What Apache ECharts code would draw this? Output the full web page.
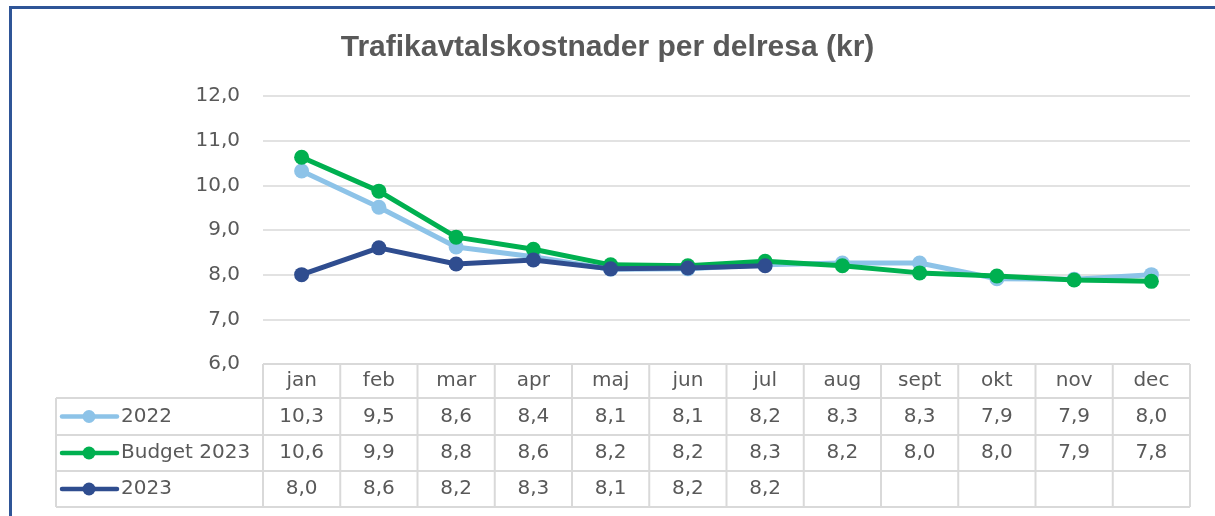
<!DOCTYPE html>
<html lang="sv">
<head>
    <meta charset="UTF-8">
    <title>Trafikavtalskostnader per delresa</title>
    <style>
        html, body { margin: 0; padding: 0; background: #fff; }
    </style>
</head>
<body>
    <div id="main" style="width: 1215px; height: 516px;"></div>

    <script src="https://cdn.jsdelivr.net/npm/echarts@6/dist/echarts.min.js"></script>
    <script>
        // data
        var months = ['jan', 'feb', 'mar', 'apr', 'maj', 'jun', 'jul', 'aug', 'sept', 'okt', 'nov', 'dec'];
        var seriesNames = ['2022', 'Budget 2023', '2023'];
        var values2022 = [10.32, 9.51, 8.62, 8.40, 8.12, 8.13, 8.22, 8.26, 8.26, 7.91, 7.90, 8.00];
        var valuesBudget = [10.63, 9.87, 8.84, 8.57, 8.22, 8.20, 8.30, 8.20, 8.04, 7.97, 7.88, 7.85];
        var values2023 = [8.00, 8.60, 8.24, 8.33, 8.13, 8.15, 8.20, null, null, null, null, null];
        var yTicks = [6, 7, 8, 9, 10, 11, 12];

        var colors = ['#8dc3e8', '#00b050', '#2f4d8f'];
        var allValues = [values2022, valuesBudget, values2023];

        function fmt(v) {
            return v == null ? '' : v.toFixed(1).replace('.', ',');
        }

        var chartDom = document.getElementById('main');
        var myChart = echarts.init(chartDom);

        var gridLeft = 263, gridRight = 25, gridTop = 96, gridBottom = 152;
        var bodyFont = 'DejaVu Sans, sans-serif';

        var option = {
            animation: false,
            backgroundColor: '#fff',
            title: {
                text: 'Trafikavtalskostnader per delresa (kr)',
                left: 'center',
                top: 28,
                textStyle: {
                    fontFamily: 'Liberation Sans Narrow, Arial Narrow, sans-serif',
                    fontSize: 30,
                    fontWeight: 'bold',
                    color: '#595959'
                }
            },
            grid: { left: gridLeft, right: gridRight, top: gridTop, bottom: gridBottom },
            xAxis: {
                type: 'category',
                data: months,
                boundaryGap: true,
                axisLine: { show: false },
                axisTick: { show: false },
                axisLabel: { show: false }
            },
            yAxis: {
                type: 'value',
                min: yTicks[0],
                max: yTicks[yTicks.length - 1],
                interval: 1,
                axisLine: { show: false },
                axisTick: { show: false },
                axisLabel: {
                    formatter: fmt,
                    color: '#595959',
                    fontFamily: bodyFont,
                    fontSize: 20,
                    margin: 23
                },
                splitLine: { lineStyle: { color: '#d9d9d9', width: 1.5 } }
            },
            series: allValues.map(function (vals, i) {
                return {
                    name: seriesNames[i],
                    type: 'line',
                    data: vals,
                    symbol: 'circle',
                    symbolSize: 15,
                    connectNulls: false,
                    lineStyle: { color: colors[i], width: 5 },
                    itemStyle: { color: colors[i] },
                    z: 2 + i
                };
            })
        };
        myChart.setOption(option);

        // data table under the plot
        var textStyleBase = {
            fill: '#595959',
            fontFamily: bodyFont,
            fontSize: 20
        };
        var lineColor = '#d9d9d9';
        var tableLeft = 56;
        var plotRight = 1215 - gridRight;
        var rowsY = [364, 398, 435, 471, 507];
        var colW = (plotRight - gridLeft) / months.length;
        var g = [];

        function hLine(x1, x2, y) {
            g.push({ type: 'line', shape: { x1: x1, y1: y, x2: x2, y2: y }, style: { stroke: lineColor, lineWidth: 2 } });
        }
        function vLine(x, y1, y2) {
            g.push({ type: 'line', shape: { x1: x, y1: y1, x2: x, y2: y2 }, style: { stroke: lineColor, lineWidth: 2 } });
        }

        // horizontal lines
        hLine(gridLeft, plotRight, rowsY[0]);
        for (var r = 1; r < rowsY.length; r++) hLine(tableLeft, plotRight, rowsY[r]);
        // vertical lines
        vLine(tableLeft, rowsY[1], rowsY[4]);
        for (var c = 0; c <= months.length; c++) vLine(gridLeft + c * colW, rowsY[0], rowsY[4]);

        // header (months)
        months.forEach(function (m, i) {
            var cx = myChart.convertToPixel({ xAxisIndex: 0 }, m);
            g.push({
                type: 'text', x: cx, y: (rowsY[0] + rowsY[1]) / 2,
                style: Object.assign({ text: m, align: 'center', verticalAlign: 'middle' }, textStyleBase)
            });
        });

        // rows with legend key and values
        allValues.forEach(function (vals, s) {
            var cy = (rowsY[s + 1] + rowsY[s + 2]) / 2;
            g.push({ type: 'line', shape: { x1: 62, y1: cy, x2: 117, y2: cy }, style: { stroke: colors[s], lineWidth: 4.5, lineCap: 'round' } });
            g.push({ type: 'circle', shape: { cx: 89, cy: cy, r: 6.5 }, style: { fill: colors[s] } });
            g.push({
                type: 'text', x: 121, y: cy,
                style: Object.assign({ text: seriesNames[s], align: 'left', verticalAlign: 'middle' }, textStyleBase)
            });
            vals.forEach(function (v, i) {
                var cx = myChart.convertToPixel({ xAxisIndex: 0 }, months[i]);
                g.push({
                    type: 'text', x: cx, y: cy,
                    style: Object.assign({ text: fmt(v), align: 'center', verticalAlign: 'middle' }, textStyleBase)
                });
            });
        });

        // outer frame (blue, top and left edges)
        g.push({ type: 'rect', shape: { x: 9, y: 6, width: 1206, height: 3 }, style: { fill: '#2f5597' } });
        g.push({ type: 'rect', shape: { x: 9, y: 6, width: 3, height: 510 }, style: { fill: '#2f5597' } });

        myChart.setOption({ graphic: { elements: g } });
    </script>
</body>
</html>
